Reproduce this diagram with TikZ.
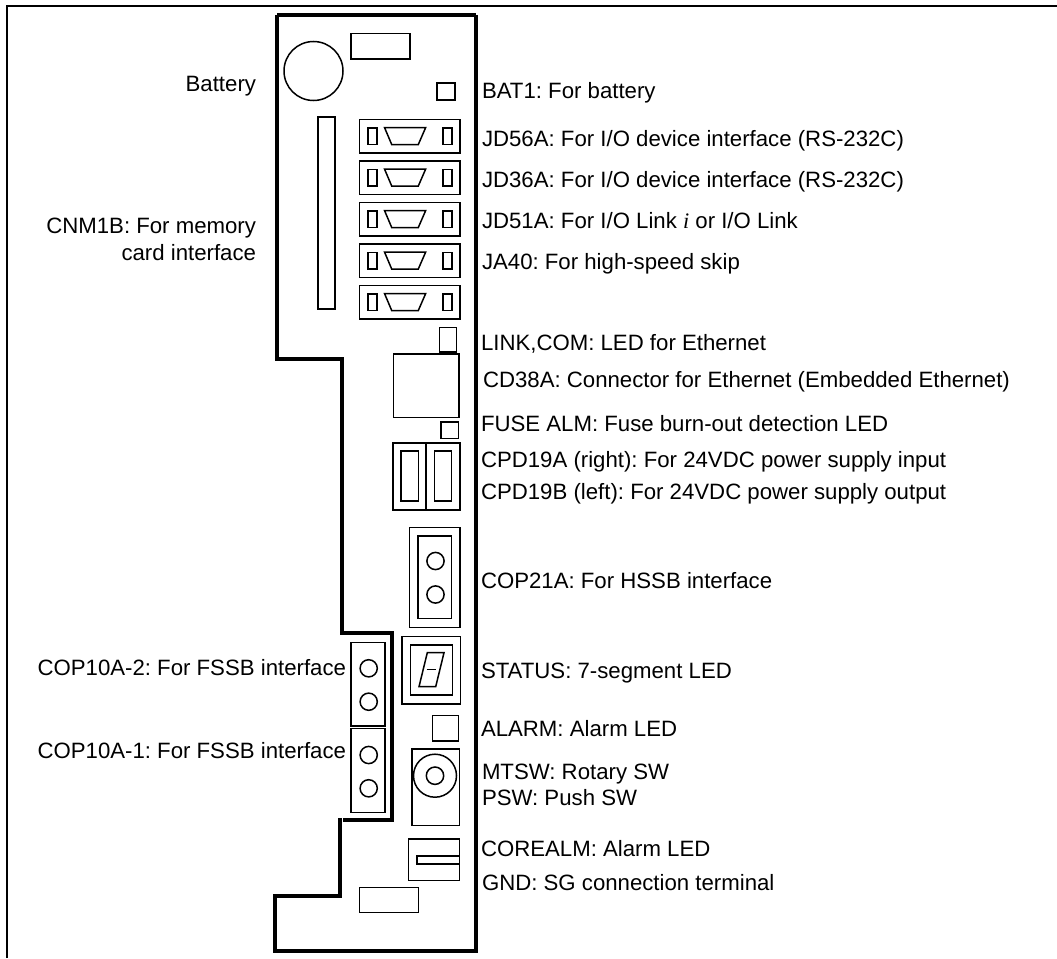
\documentclass[tikz,border=0pt]{standalone}
\usepackage{fontspec}
\setmainfont{Liberation Sans}
\newfontfamily\serifi{Liberation Serif}
\frenchspacing
\tikzset{
  thin part/.style={draw=black,line width=1.5pt,line join=miter},
  board/.style={draw=black,line width=4pt,line join=miter,line cap=butt},
  frame line/.style={draw=black,line width=2pt},
  lbl/.style={inner sep=0pt,outer sep=0pt,font=\fontsize{22.2}{26}\selectfont},
  rlbl/.style={lbl,anchor=base west},
  llbl/.style={lbl,anchor=base east},
}
\newcommand{\partbox}[4]{\draw[thin part] (#1,#2) rectangle (#3,#4);}
\newcommand{\dsub}[1]{%
  \draw[thin part] (359.5,#1) rectangle (460,#1+33.5);
  \draw[thin part] (368,#1+8.5) rectangle (377,#1+25);
  \draw[thin part] (443,#1+8.5) rectangle (452,#1+25);
  \draw[thin part] (384.5,#1+8) -- (425.7,#1+8) -- (418.3,#1+25) -- (391.7,#1+25) -- cycle;
}
\newcommand{\pin}[2]{\draw[thin part] (#1,#2) circle (8.6pt);}
\begin{document}
\begin{tikzpicture}[x=1pt,y=-1pt]
\useasboundingbox (0,0) rectangle (1057,958);
\fill[white] (0,0) rectangle (1057,958);
% outer frame
\draw[frame line] (7,958) -- (7,6) -- (1057,6);
% board outline
\draw[board] (277,15) -- (476,15);
\draw[board] (476,15) -- (476,951) -- (275,951) -- (275,896) -- (340,896) -- (340,818);
\draw[board] (277,15) -- (277,359) -- (342,359) -- (342,633) -- (392,633) -- (392,820) -- (343,820);
% top parts
\partbox{351}{33.5}{410}{59}
\draw[thin part] (313.5,71) circle (29.5pt);
\partbox{437}{83}{455}{100}
\partbox{318}{117}{335}{309}
\dsub{119.5}
\dsub{161}
\dsub{202.5}
\dsub{244}
\dsub{285.5}
% ethernet, fuse, power
\partbox{439.7}{327.3}{456.7}{352}
\partbox{393.5}{354}{459}{417.5}
\partbox{441}{422}{458.5}{438.5}
\partbox{393}{443}{460}{510}
\draw[thin part] (426,443) -- (426,510);
\partbox{401}{451}{418.5}{501}
\partbox{434.5}{451}{451.5}{501}
% COP21A
\partbox{409.5}{527.5}{460}{627.5}
\partbox{418}{536}{451.5}{618.5}
\pin{435.5}{561}
\pin{435.5}{594.5}
% status
\partbox{402}{636.7}{460.7}{704}
\partbox{410.3}{645}{452.3}{695}
\draw[thin part] (427.3,652.7) -- (444,652.7) -- (435.7,686.7) -- (419,686.7) -- cycle;
\draw[thin part] (426.7,669.3) -- (436,669.3);
% COP10A
\partbox{351}{642.3}{385}{726}
\pin{368.7}{668.3}
\pin{368.7}{701.7}
\partbox{351}{728.7}{385}{812.7}
\pin{368.7}{755}
\pin{368.7}{788.3}
% alarm, rotary
\partbox{432.7}{715.7}{458.3}{741}
\partbox{412}{749}{459.3}{825.3}
\draw[thin part] (435,775.7) circle (21.5pt);
\draw[thin part] (435,775.7) circle (8.7pt);
% corealm, bottom
\partbox{408.7}{839}{459.3}{880.7}
\partbox{417}{856}{459.3}{864}
\partbox{359.3}{887.3}{418.3}{912.7}
% left labels
\node[llbl] (battery) at (256,92) {Battery};
\node[llbl] (cnma) at (256,233) {CNM1B: For memory};
\node[llbl] (cnmb) at (256,260.7) {card interface};
\node[llbl] (cop2) at (346,675) {COP10A-2: For FSSB interface};
\node[llbl] (cop1) at (346,758) {COP10A-1: For FSSB interface};
% right labels
\node[rlbl] (bat) at (482,98) {BAT1: For battery};
\node[rlbl] (jd56) at (482,146) {JD56A: For I/O device interface (RS-232C)};
\node[rlbl] (jd36) at (482,187) {JD36A: For I/O device interface (RS-232C)};
\node[rlbl] (jd51) at (482,228) {JD51A: For I/O Link {\serifi\itshape i} or I/O Link};
\node[rlbl] (ja40) at (482,269) {JA40: For high-speed skip};
\node[rlbl] (link) at (481,350.7) {LINK,COM: LED for Ethernet};
\node[rlbl] (cd38) at (483,387.7) {CD38A: Connector for Ethernet (Embedded Ethernet)};
\node[rlbl] (fuse) at (481,431.7) {FUSE ALM: Fuse burn-out detection LED};
\node[rlbl] (cpda) at (481,467) {CPD19A (right): For 24VDC power supply input};
\node[rlbl] (cpdb) at (481,499) {CPD19B (left): For 24VDC power supply output};
\node[rlbl] (cop21) at (481,588) {COP21A: For HSSB interface};
\node[rlbl] (status) at (481,678) {STATUS: 7-segment LED};
\node[rlbl] (alarm) at (481,736) {ALARM: Alarm LED};
\node[rlbl] (mtsw) at (482,779) {MTSW: Rotary SW};
\node[rlbl] (psw) at (482,805.7) {PSW: Push SW};
\node[rlbl] (corealm) at (481,856) {COREALM: Alarm LED};
\node[rlbl] (gnd) at (482,890) {GND: SG connection terminal};
\end{tikzpicture}
\end{document}
